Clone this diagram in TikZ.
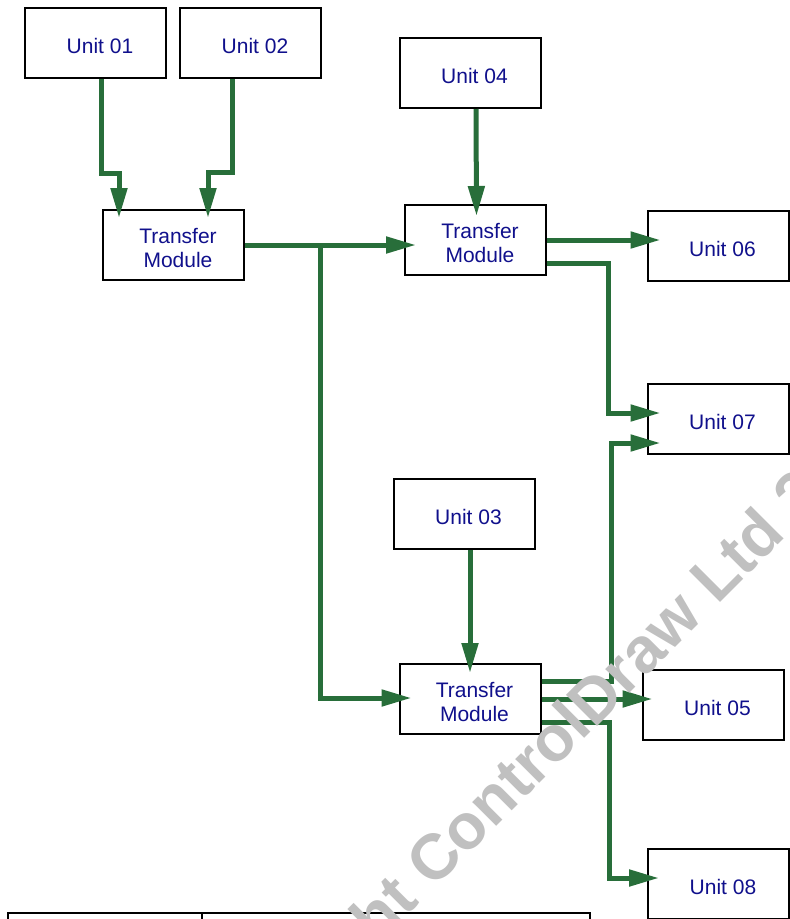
\documentclass[tikz,border=0pt]{standalone}
\usepackage{fontspec}
\setmainfont{Liberation Sans}
\usetikzlibrary{arrows.meta,calc}
\definecolor{flowgreen}{RGB}{40,110,58}
\definecolor{labelblue}{RGB}{16,16,140}
\definecolor{markgray}{RGB}{192,192,192}

\begin{document}
\begin{tikzpicture}[x=1pt,y=-1pt,
  unitbox/.style={draw=black, line width=2pt, fill=white,
    minimum width=141pt, minimum height=70pt, inner sep=0pt},
  labeltext/.style={text=labelblue, font=\fontsize{21}{24}\selectfont,
    align=center, inner sep=0pt, xshift=4.5pt, yshift=-2.5pt},
  unitlabel/.style={label={[labeltext]center:#1}},
  flow/.style={draw=flowgreen, line width=5pt,
    -{Triangle[length=30pt,width=16pt]}},
  frame/.style={draw=black, line width=1.8pt},
]
\useasboundingbox (0,0) rectangle (790,919);
\clip (0,0) rectangle (790,919);

% units and transfer modules
\node[unitbox, unitlabel={Unit 01}] (u1) at (95.5,43) {};
\node[unitbox, unitlabel={Unit 02}] (u2) at (250.5,43) {};
\node[unitbox, unitlabel={Unit 04}] (u4) at (470,73) {};
\node[unitbox, unitlabel={Transfer\\Module}] (tm1) at (173.5,245) {};
\node[unitbox, unitlabel={Transfer\\Module}] (tm2) at (475.5,240) {};
\node[unitbox, unitlabel={Unit 06}] (u6) at (718,246) {};
\node[unitbox, unitlabel={Unit 07}] (u7) at (718,419) {};
\node[unitbox, unitlabel={Unit 03}] (u3) at (464,514) {};
\node[unitbox, unitlabel={Transfer\\Module}] (tm3) at (470,699) {};
\node[unitbox, unitlabel={Unit 05}] (u5) at (713,705) {};
\node[unitbox, unitlabel={Unit 08}] (u8) at (718.5,884) {};

% table frame along the bottom edge
\coordinate (tbl1) at (8,913);
\coordinate (tbl2) at (202,913);
\coordinate (tbl3) at (590,913);
\draw[frame] ($(tbl1)+(0,20)$) -- (tbl1) -- (tbl3) -- ($(tbl3)+(0,20)$);
\draw[frame] (tbl2) -- ($(tbl2)+(0,20)$);

% flows into the first transfer module
\draw[flow] ([xshift=5.5pt]u1.south) |- ([xshift=-54.5pt,yshift=36pt]tm1.north)
  -- ([xshift=-54.5pt,yshift=-9pt]tm1.north);
\draw[flow] ([xshift=-18.5pt]u2.south) |- ([xshift=34.5pt,yshift=37pt]tm1.north)
  -- ([xshift=34.5pt,yshift=-9pt]tm1.north);

% first module to second and third modules
\coordinate (split) at ($(tm1.east)+(75,0)$);
\draw[flow] (tm1.east) -- ($(tm2.west |- tm1.east)+(12,0)$);
\draw[flow] (split) |- ($(tm3.west)+(13,-1)$);

% unit 04 into second module
\draw[flow] ([xshift=6pt]u4.south) -- ([xshift=1pt,yshift=-12pt]tm2.north);

% second module outputs
\draw[flow] (tm2.east) -- ($(u6.west |- tm2.east)+(14,0)$);
\draw[flow] ([yshift=-23pt]tm2.east) -| ($(u7.west)+(-38,-6)$)
  -- ($(u7.west)+(14,-6)$);

% unit 03 into third module
\draw[flow] ([xshift=6pt]u3.south) -- ([yshift=-10pt]tm3.north);

% third module outputs
\draw[flow] ([yshift=18pt]tm3.east) -| ($(u7.west)+(-35,24)$)
  -- ($(u7.west)+(14,24)$);
\draw[flow] (tm3.east) -- ($(u5.west |- tm3.east)+(11,0)$);
\draw[flow] ([yshift=-23pt]tm3.east) -| ($(u8.west)+(-38,-6)$)
  -- ($(u8.west)+(12,-6)$);

% copyright mark across the sheet
\node[rotate=45, anchor=base west, inner sep=0pt, text=markgray,
  font=\fontsize{64}{64}\selectfont\bfseries] (mark) at (433,890)
  {\llap{Copyright }ControlDraw Ltd 2};
\end{tikzpicture}
\end{document}
